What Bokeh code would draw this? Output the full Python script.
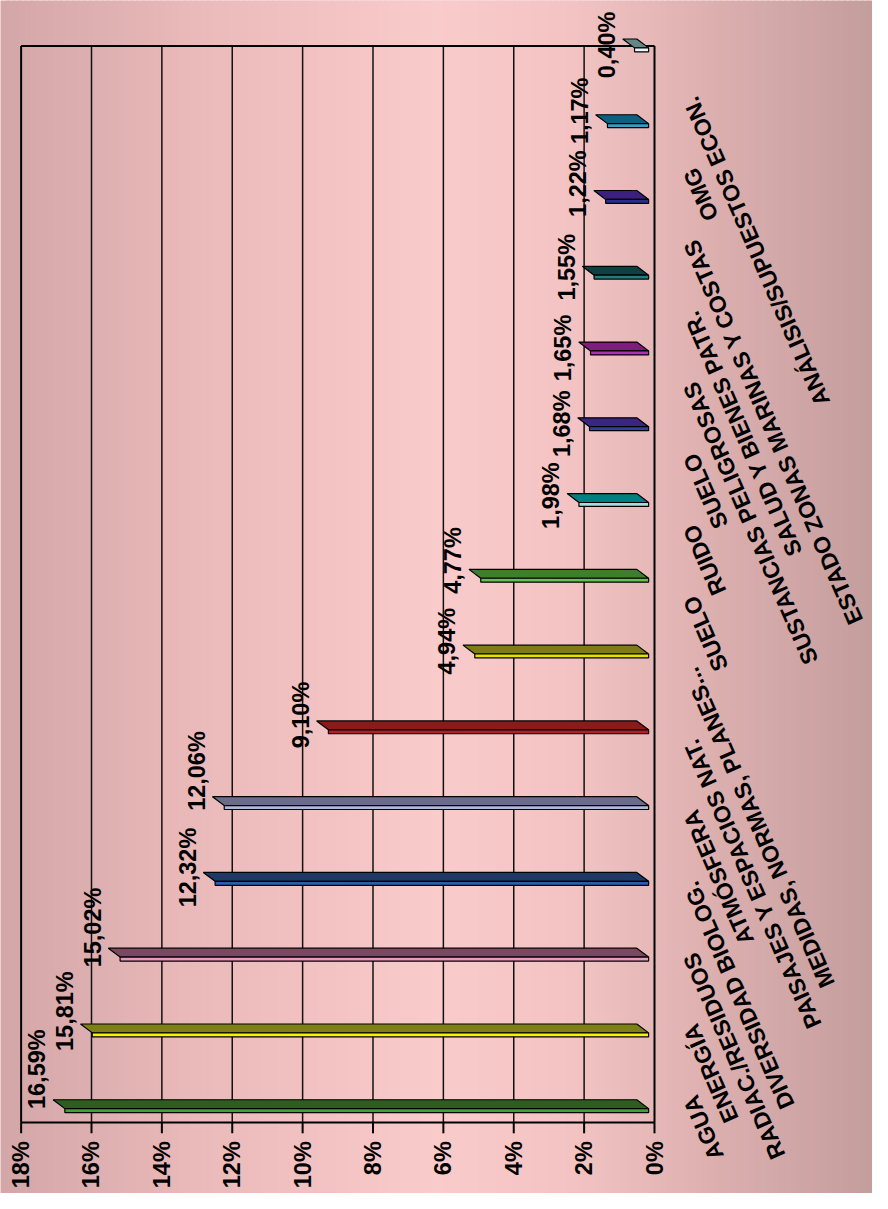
import math
from bokeh.plotting import figure
from bokeh.models import Range1d
from bokeh.embed import file_html
from bokeh.resources import INLINE
from bokeh.core.properties import value

# ---------------- data ----------------
categories = ["AGUA", "ENERGÍA", "RADIAC./RESIDUOS", "DIVERSIDAD BIOLOG.", "ATMÓSFERA",
              "PAISAJES Y ESPACIOS NAT.", "MEDIDAS, NORMAS, PLANES...", "SUELO", "RUIDO",
              "SUELO", "SUSTANCIAS PELIGROSAS", "SALUD Y BIENES PATR.",
              "ESTADO ZONAS MARINAS Y COSTAS", "OMG", "ANÁLISIS/SUPUESTOS ECON."]
values = [16.59, 15.81, 15.02, 12.32, 12.06, 9.10, 4.94, 4.77, 1.98, 1.68, 1.65, 1.55, 1.22, 1.17, 0.40]
x_ticks = [0, 2, 4, 6, 8, 10, 12, 14, 16, 18]
tick_labels = ["%d%%" % t for t in x_ticks]

# ---------------- styles ----------------
top_colors = ["#2d5e1e", "#7f7f18", "#7a4860", "#1f3865", "#6b6b8b", "#8b1a1a", "#7f7c18", "#3d7f2d",
              "#007f7f", "#3a2680", "#801c80", "#0f4040", "#3c2080", "#0d6080", "#668686"]
front_colors = ["#3fa336", "#f5f500", "#e899c0", "#2a5cb0", "#b0b8d8", "#b32020", "#e8e000", "#6cc04c",
                "#a8dcdc", "#3040a0", "#b030b0", "#1f7f7f", "#2c2c90", "#3a9cc0", "#e8f8f8"]
label_nudge_px = [37, 19, 27, 11, 32, 12, 10, 15, 4, 0, 0, 5, 13, 10, 0]   # value-label placement
FONT = "Liberation Sans"
grad_stops = [(0.0, (211, 166, 167)), (0.22, (234, 185, 186)), (0.5, (250, 203, 203)),
              (0.66, (243, 195, 195)), (0.8, (223, 177, 177)), (1.0, (196, 157, 157))]

# layout (reference pixel geometry -> data units)
REF_W, REF_H = 888, 1209
U = 645 / 18.0     # ref px per percent
V = 1075 / 14.0    # ref px per category step
x_left, x_right = 18 + 21 / U, -(REF_W - 666) / U
y_bottom, y_top = 1 - (REF_H - 1120) / V, 15 + 45 / V

p = figure(width=872, height=1193, x_range=Range1d(x_left, x_right), y_range=Range1d(y_bottom, y_top),
           output_backend="svg", toolbar_location=None, x_axis_location=None, y_axis_location=None,
           min_border=0)
p.outline_line_color = None
p.xgrid.visible = False
p.ygrid.visible = False
p.background_fill_color = "#f0c0c0"
p.border_fill_color = "#f0c0c0"

# background gradient (vertical strips)
N = 148
def grad(f):
    for (f0, c0), (f1, c1) in zip(grad_stops[:-1], grad_stops[1:]):
        if f0 <= f <= f1:
            t = (f - f0) / (f1 - f0)
            return "#%02x%02x%02x" % tuple(int(round(a + (b - a) * t)) for a, b in zip(c0, c1))
    return "#%02x%02x%02x" % grad_stops[-1][1]
span = x_right - x_left
gl = [x_left + span * i / N for i in range(N)]
gr = [x_left + span * (i + 1.6) / N for i in range(N)]
gc = [grad((i + 0.5) / N) for i in range(N)]
p.quad(left=gl, right=gr, bottom=[y_bottom] * N, top=[y_top] * N, fill_color=gc, line_color=None)

# frame, gridlines, ticks
y_fb = 1 - 17 / V
y_ft = 15 - 1 / V
grid_x = [t for t in x_ticks if 0 < t < 18]
p.segment(x0=grid_x, y0=[y_fb] * len(grid_x), x1=grid_x, y1=[y_ft] * len(grid_x),
          line_color="#111111", line_width=1.5)
p.segment(x0=[18, 0, 18, 18], y0=[y_fb, y_fb, y_ft, y_fb], x1=[18, 0, 0, 0], y1=[y_ft, y_ft, y_ft, y_fb],
          line_color="black", line_width=2)
p.segment(x0=x_ticks, y0=[y_fb] * len(x_ticks), x1=x_ticks, y1=[y_fb - 11 / V] * len(x_ticks),
          line_color="black", line_width=2)
p.text(x=x_ticks, y=[1 - 36 / V] * len(x_ticks), text=tick_labels, angle=math.pi / 2,
       text_align="right", text_baseline="middle", text_font=value(FONT), text_font_style="bold",
       text_font_size="23.5px", text_color="black")

# 3D-looking bars
s = 6 / U
shear = 12 / U
ycat = list(range(1, len(values) + 1))
fx0, fx1, fy0, fy1, pxs, pys = [], [], [], [], [], []
for yc, v in zip(ycat, values):
    yb = yc - 3 / V
    yt = yc + 6 / V
    fx0.append(v + s); fx1.append(s)
    fy0.append(yc - 7 / V); fy1.append(yb)
    pxs.append([s, v + s, v + s + shear, s + shear])
    pys.append([yb, yb, yt, yt])
p.patches(xs=pxs, ys=pys, fill_color=top_colors, line_color="black", line_width=1.2)
p.quad(left=fx0, right=fx1, bottom=fy0, top=fy1, fill_color=front_colors, line_color="black", line_width=1.2)

# value labels
lab_txt = [("%.2f" % v).replace(".", ",") + "%" for v in values]
p.text(x=[v + 0.95 for v in values], y=[yc + n / V for yc, n in zip(ycat, label_nudge_px)], text=lab_txt,
       angle=math.pi / 2, text_align="center", text_baseline="middle",
       text_font=value(FONT), text_font_style="bold", text_font_size="23.5px", text_color="black")

# category labels (slanted)
p.text(x=[-36 / U] * len(categories), y=[1 + (9 + 72.3 * i) / V for i in range(len(categories))],
       text=categories, angle=math.radians(113.5), text_align="right", text_baseline="middle",
       text_font=value(FONT), text_font_style="bold", text_font_size="23px", text_color="black")

open("out.html", "w").write(file_html(p, INLINE))
